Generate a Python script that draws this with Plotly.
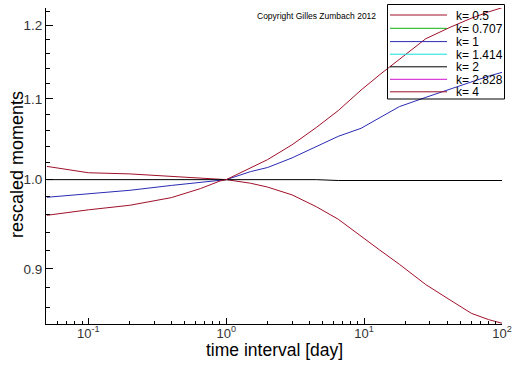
import plotly.graph_objects as go

# ---- data ----
time_days = [0.05, 0.1, 0.2, 0.4, 0.65, 0.9, 1.0, 1.5, 2, 3, 4.5, 6.5, 9.5, 13, 18, 28, 42, 60, 80, 100]
k_0_5 = [1.0158, 1.0082, 1.0068, 1.0036, 1.0018, 1.0003, 1.0, 0.9958, 0.9912, 0.9822, 0.9686, 0.9543,
         0.9360, 0.9202, 0.9050, 0.8835, 0.8676, 0.8540, 0.8477, 0.8441]
k_1 = [0.9794, 0.9835, 0.9875, 0.9932, 0.9965, 0.9995, 1.0, 1.0095, 1.0145, 1.0260, 1.0400, 1.0525,
       1.0625, 1.0760, 1.0900, 1.1020, 1.1130, 1.1230, 1.1300, 1.1350]
k_2 = [1.0, 1.0, 1.0, 1.0, 1.0, 1.0, 1.0, 1.0, 0.9992, 1.0, 1.0, 0.999,
       0.999, 0.999, 0.999, 0.999, 0.999, 0.999, 0.999, 0.999]
k_4 = [0.9588, 0.9650, 0.9702, 0.9790, 0.9895, 0.9984, 1.0, 1.0140, 1.0240, 1.0420, 1.0635, 1.0850,
       1.1115, 1.1320, 1.1530, 1.1810, 1.1970, 1.2100, 1.2190, 1.2250]

legend_labels = ["k= 0.5", "k= 0.707", "k= 1", "k= 1.414", "k= 2", "k= 2.828", "k= 4"]
legend_colors = ["#a0102a", "#10b010", "#2a2ab4", "#10e0e0", "#000000", "#d010d0", "#a0102a"]

x_tickvals = [0.1, 1, 10, 100]
x_ticktext = ["10<sup>-1</sup>", "10<sup>0</sup>", "10<sup>1</sup>", "10<sup>2</sup>"]
y_tickvals = [0.9, 1.0, 1.1, 1.2]
y_ticktext = ["0.9", "1.0", "1.1", "1.2"]

x_minor = [m * 10 ** e for e in (-2, -1, 0, 1) for m in range(2, 10)]
x_minor = [v for v in x_minor if v >= 0.05]
y_minor = [round(0.86 + 0.02 * i, 2) for i in range(19)]

# ---- figure ----
fig = go.Figure()
series = [(k_0_5, legend_colors[0]), (k_1, legend_colors[2]), (k_2, legend_colors[4]), (k_4, legend_colors[6])]
for vals, col in series:
    fig.add_trace(go.Scatter(x=time_days, y=vals, mode="lines",
                             line=dict(color=col, width=1), showlegend=False, hoverinfo="skip"))

W, H = 512, 366
L, R, T, B = 46, 10, 8, 42
pw, ph = W - L - R, H - T - B


def px_x(px):
    return (px - L) / pw


def px_y(py):
    return (H - B - py) / ph


FONT = "Liberation Sans, Arial"

# manual legend box (transparent background)
fig.add_shape(type="rect", xref="paper", yref="paper",
              x0=px_x(387.5), x1=px_x(504.5), y0=px_y(99), y1=px_y(4.5),
              line=dict(color="black", width=1), fillcolor="rgba(0,0,0,0)", layer="above")
rows = [15, 28.3, 41.6, 54.2, 66.8, 79.3, 91.8]
for lab, col, ry in zip(legend_labels, legend_colors, rows):
    fig.add_shape(type="line", xref="paper", yref="paper",
                  x0=px_x(390), x1=px_x(447), y0=px_y(ry), y1=px_y(ry),
                  line=dict(color=col, width=1), layer="above")
    fig.add_annotation(xref="paper", yref="paper", x=px_x(455), y=px_y(ry + 0.5),
                       text=lab, showarrow=False, xanchor="left", yanchor="middle",
                       borderpad=0, height=12,
                       font=dict(family=FONT, size=12, color="black"))

fig.add_annotation(xref="paper", yref="paper", x=px_x(316), y=px_y(15.5),
                   text="Copyright Gilles Zumbach 2012", showarrow=False,
                   xanchor="center", yanchor="middle",
                   font=dict(family=FONT, size=8.5, color="black"))

# axis titles as annotations for precise placement
fig.add_annotation(xref="paper", yref="paper", x=0.5, y=px_y(350),
                   text="time interval [day]", showarrow=False,
                   xanchor="center", yanchor="middle",
                   font=dict(family=FONT, size=17.5, color="black"))
fig.add_annotation(xref="paper", yref="paper", x=px_x(17), y=px_y(165),
                   text="rescaled moments", showarrow=False, textangle=-90,
                   xanchor="center", yanchor="middle",
                   font=dict(family=FONT, size=18, color="black"))

fig.update_layout(
    width=W, height=H,
    margin=dict(l=L, r=R, t=T, b=B, autoexpand=False),
    paper_bgcolor="white", plot_bgcolor="white",
    font=dict(family=FONT, color="black"),
    showlegend=False,
    hovermode=False,
)
fig.update_xaxes(
    type="log", range=[-1.307, 2.0], automargin=False,
    showgrid=False, zeroline=False,
    showline=True, linecolor="black", linewidth=1,
    ticks="inside", ticklen=6, tickcolor="black",
    tickmode="array", tickvals=x_tickvals, ticktext=x_ticktext,
    tickfont=dict(size=13, color="#333"),
    ticklabelstandoff=-3,
    minor=dict(tickmode="array", tickvals=x_minor, ticks="inside", ticklen=3, tickcolor="black", showgrid=False),
)
fig.update_yaxes(
    type="log", range=[-0.0740, 0.0880], automargin=False,
    showgrid=False, zeroline=False,
    showline=True, linecolor="black", linewidth=1,
    ticks="inside", ticklen=7, tickcolor="black",
    tickmode="array", tickvals=y_tickvals, ticktext=y_ticktext,
    tickfont=dict(size=13.5, color="#333"),
    minor=dict(tickmode="array", tickvals=y_minor, ticks="inside", ticklen=4, tickcolor="black", showgrid=False),
)

fig.write_html("out.html", config={"displayModeBar": False},
               post_script="document.body.style.margin='0';")
